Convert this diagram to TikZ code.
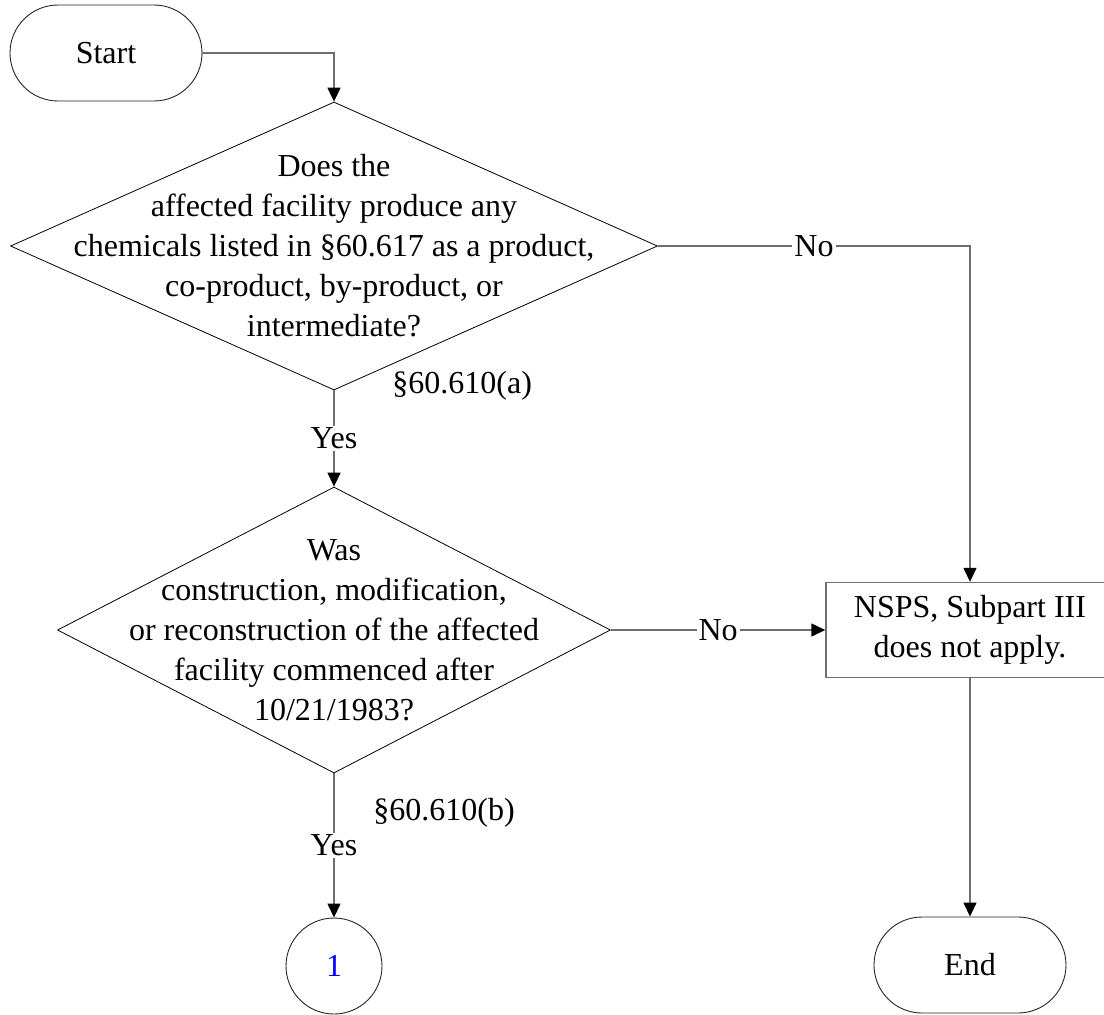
\documentclass[tikz,border=0pt]{standalone}
\usepackage{fontspec}
\setmainfont{Liberation Serif}
\usetikzlibrary{arrows.meta,calc,positioning,shapes.geometric}
\definecolor{linegray}{RGB}{110,110,110}
\tikzset{
	terminal/.style={draw=black!85, line width=0.45pt, rounded corners=24pt, minimum width=96pt, minimum height=48pt, inner sep=0pt},
	decision/.style={draw, diamond, line width=0.4pt, inner sep=0pt},
	process/.style={draw=linegray, line width=0.7pt, minimum width=144pt, minimum height=47.5pt, inner sep=0pt, align=center},
	offpage/.style={draw=black!85, circle, line width=0.45pt, minimum size=48pt, inner sep=0pt},
	flow/.style={draw=linegray, line width=0.7pt, -{Triangle[length=7pt,width=6.5pt,color=black]}},
	answer/.style={fill=white, inner sep=1pt},
	citation/.style={anchor=west, inner sep=0pt}
}

\begin{document}
\begin{tikzpicture}[x=0.5pt, y=-0.5pt, font=\fontsize{16}{20}\selectfont]
		%%%%% START %%%%%
		
		\clip (0, 0) rectangle (1104, 1014);
		
		\node[terminal] (start) at (106, 53) {Start};
		
		\node[decision, minimum width=323.5pt, minimum height=144pt, label={[align=center]center:Does the\\affected facility produce any\\chemicals listed in §60.617 as a product,\\co-product, by-product, or\\intermediate?}] (q1) at (334, 246) {};
		\node[citation] (refa) at ($(q1.south)+(58, -5)$) {§60.610(a)};
		
		\node[decision, minimum width=276.5pt, minimum height=143pt, label={[align=center]center:Was\\construction, modification,\\or reconstruction of the affected\\facility commenced after\\10/21/1983?}] (q2) at (334, 630) {};
		\node[citation] (refb) at ($(q2.south)+(39, 39)$) {§60.610(b)};
		
		\node[process] (nsps) at (970, 630) {NSPS, Subpart III\\does not apply.};
		\node[terminal] (end) at (970, 965) {End};
		\node[offpage, text=blue] (page1) at (334, 966) {1};
		
		\draw[flow] (start) -| (q1);
		\draw[flow] (q1) -- node[answer] (yes1) {Yes} (q2);
		\draw[flow] (q1) -| node[answer, pos=0.25] (no1) {No} (nsps);
		\draw[flow] (q2) -- node[answer] (no2) {No} (nsps);
		\draw[flow] (q2) -- node[answer] (yes2) {Yes} (page1);
		\draw[flow] (nsps) -- (end);
		
		%%%%% END %%%%%
\end{tikzpicture}
\end{document}
